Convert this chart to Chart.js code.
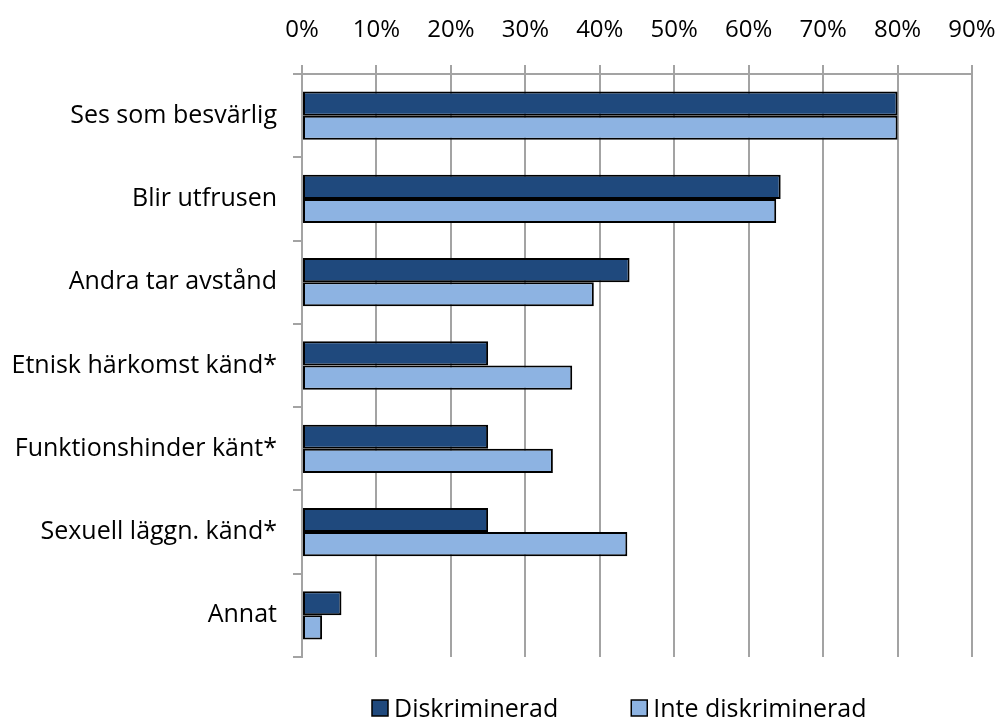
<!DOCTYPE html>
<html>
<head>
<meta charset="utf-8">
<script src="https://cdn.jsdelivr.net/npm/chart.js@4/dist/chart.umd.min.js"></script>
<style>
  html, body { margin: 0; padding: 0; background: #fff; }
  #wrap { width: 998px; height: 720px; }
</style>
</head>
<body>
<div id="wrap"><canvas id="barChart" width="998" height="720"></canvas></div>
<script>
const categories = [
  'Ses som besvärlig',
  'Blir utfrusen',
  'Andra tar avstånd',
  'Etnisk härkomst känd*',
  'Funktionshinder känt*',
  'Sexuell läggn. känd*',
  'Annat'
];
const diskriminerad = [80, 64.3, 44.0, 25.0, 25.0, 25.0, 5.3];
const inteDiskriminerad = [80, 63.7, 39.2, 36.3, 33.7, 43.7, 2.7];
const seriesNames = ['Diskriminerad', 'Inte diskriminerad'];

const FONT = '"Open Sans", Lato, sans-serif';
const GRID = '#a3a3a3';

// legend drawn by hand so the gap between the two items can be wide
const wideLegend = {
  id: 'wideLegend',
  afterDraw(chart) {
    const ctx = chart.ctx;
    const sets = chart.data.datasets;
    const box = 16, textGap = 6, itemGap = 73;
    const baseline = 717;
    let x = 372;
    ctx.save();
    ctx.font = '25px ' + FONT;
    ctx.textBaseline = 'alphabetic';
    sets.forEach(ds => {
      ctx.fillStyle = ds.backgroundColor;
      ctx.fillRect(x, baseline - 17, box, box);
      ctx.strokeStyle = '#000';
      ctx.lineWidth = 1.5;
      ctx.strokeRect(x, baseline - 17, box, box);
      ctx.fillStyle = '#000';
      ctx.fillText(ds.label, x + box + textGap, baseline);
      x += box + textGap + ctx.measureText(ds.label).width + itemGap;
    });
    ctx.restore();
  }
};

new Chart(document.getElementById('barChart'), {
  type: 'bar',
  data: {
    labels: categories,
    datasets: [
      {
        label: seriesNames[0],
        data: diskriminerad,
        backgroundColor: '#1f497d',
        borderColor: '#000',
        borderWidth: 2,
        borderSkipped: false
      },
      {
        label: seriesNames[1],
        data: inteDiskriminerad,
        backgroundColor: '#8db3e2',
        borderColor: '#000',
        borderWidth: 2,
        borderSkipped: false
      }
    ]
  },
  options: {
    indexAxis: 'y',
    responsive: false,
    animation: false,
    layout: { padding: { left: 0, right: 26, top: 0, bottom: 63 } },
    plugins: {
      legend: { display: false },
      tooltip: { enabled: false }
    },
    datasets: {
      bar: { categoryPercentage: 0.58, barPercentage: 1.0 }
    },
    scales: {
      x: {
        position: 'top',
        min: 0,
        max: 90,
        ticks: {
          stepSize: 10,
          color: '#000',
          padding: 20,
          font: { family: FONT, size: 24 },
          callback: v => v + '%'
        },
        grid: { color: GRID, lineWidth: 2, tickLength: 9, tickColor: GRID },
        border: { color: GRID, width: 2 },
        afterFit(scale) {
          scale.height = 74;
          scale.paddingLeft = 0;
          scale.paddingRight = 0;
        }
      },
      y: {
        ticks: {
          color: '#000',
          padding: 16,
          font: { family: FONT, size: 25 }
        },
        grid: {
          offset: true,
          drawOnChartArea: false,
          tickLength: 9,
          color: GRID,
          lineWidth: 2
        },
        border: { color: GRID, width: 2 },
        afterFit(scale) { scale.width = 302; }
      }
    }
  },
  plugins: [wideLegend]
});
</script>
</body>
</html>
